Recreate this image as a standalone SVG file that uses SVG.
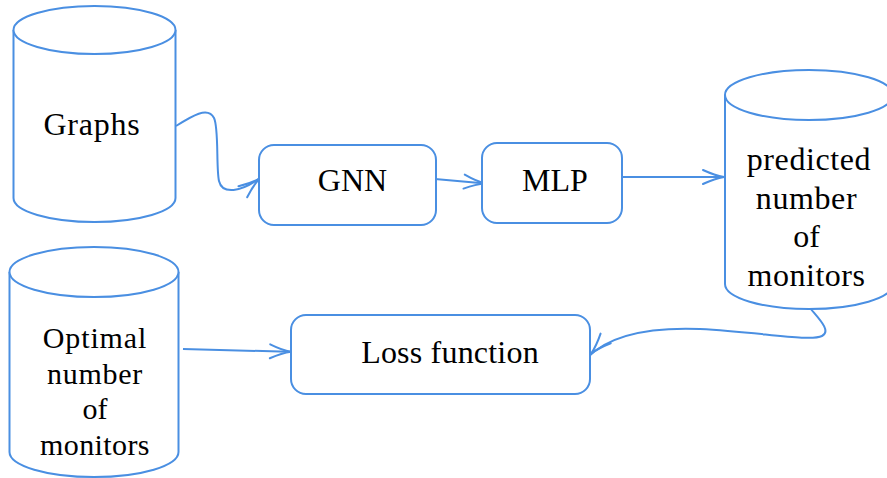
<svg xmlns="http://www.w3.org/2000/svg" width="887" height="478" viewBox="0 0 887 478">
<style>
.s{fill:#fff;stroke:#4a8fe2;stroke-width:2}
.c{fill:none;stroke:#4a8fe2;stroke-width:2}
</style>
<defs>
<marker id="ah" markerUnits="userSpaceOnUse" markerWidth="30" markerHeight="20" refX="6" refY="0" orient="auto" overflow="visible">
<path d="M-21,-7 Q-9,-1.5 0,0 Q-9,1.5 -21,7" fill="none" stroke="#4a8fe2" stroke-width="2" stroke-linecap="round"/>
</marker>
</defs>
<rect width="887" height="478" fill="#fff"/>
<g id="connectors">
<path class="c" d="M176,126 C192,116 208,106 214,118 C219,128 216,168 219,181 C222,194 240,194 264,175" marker-end="url(#ah)"/>
<path class="c" d="M435,179 L491,184" marker-end="url(#ah)"/>
<path class="c" d="M623,177 L730,177" marker-end="url(#ah)"/>
<path class="c" d="M810,308 C818,318 832,331 822,336 C810,342 760,332 700,329 C648,327 608,336 587,358" marker-end="url(#ah)"/>
<path class="c" d="M183,349 L297,352" marker-end="url(#ah)"/>
</g>
<g id="graphs">
<path class="s" d="M13.5,30 V198 A81,24 0 0 0 175.5,198 V30"/>
<ellipse class="s" cx="94.5" cy="30" rx="81" ry="24"/>
<text x="92" y="135" font-family="Liberation Serif" font-size="32" letter-spacing="0.8" text-anchor="middle">Graphs</text>
</g>
<g id="gnn">
<rect class="s" x="259" y="145" width="177" height="80" rx="15"/>
<text x="352.5" y="191" font-family="Liberation Serif" font-size="32" text-anchor="middle">GNN</text>
</g>
<g id="mlp">
<rect class="s" x="482" y="143" width="140" height="80" rx="15"/>
<text x="555" y="191" font-family="Liberation Serif" font-size="32" text-anchor="middle">MLP</text>
</g>
<g id="predicted">
<path class="s" d="M725,95 V284 A84,25 0 0 0 893,284 V95"/>
<ellipse class="s" cx="809" cy="95" rx="84" ry="25"/>
<text x="809" y="170" font-family="Liberation Serif" font-size="32" letter-spacing="0.6" text-anchor="middle">predicted</text>
<text x="806.5" y="208.5" font-family="Liberation Serif" font-size="32" letter-spacing="0.6" text-anchor="middle">number</text>
<text x="806.5" y="247" font-family="Liberation Serif" font-size="32" text-anchor="middle">of</text>
<text x="806.5" y="285.5" font-family="Liberation Serif" font-size="32" letter-spacing="0.5" text-anchor="middle">monitors</text>
</g>
<g id="optimal">
<path class="s" d="M9.5,272 V452 A84.5,25 0 0 0 178.5,452 V272"/>
<ellipse class="s" cx="94" cy="272" rx="84.5" ry="25"/>
<text x="95" y="348" font-family="Liberation Serif" font-size="30" letter-spacing="0.9" text-anchor="middle">Optimal</text>
<text x="95" y="383.5" font-family="Liberation Serif" font-size="30" letter-spacing="0.7" text-anchor="middle">number</text>
<text x="95" y="419" font-family="Liberation Serif" font-size="30" text-anchor="middle">of</text>
<text x="95" y="454.5" font-family="Liberation Serif" font-size="30" letter-spacing="0.4" text-anchor="middle">monitors</text>
</g>
<g id="loss">
<rect class="s" x="291" y="315" width="299" height="79" rx="15"/>
<text x="450" y="363" font-family="Liberation Serif" font-size="32" letter-spacing="0.2" text-anchor="middle">Loss function</text>
</g>
</svg>
